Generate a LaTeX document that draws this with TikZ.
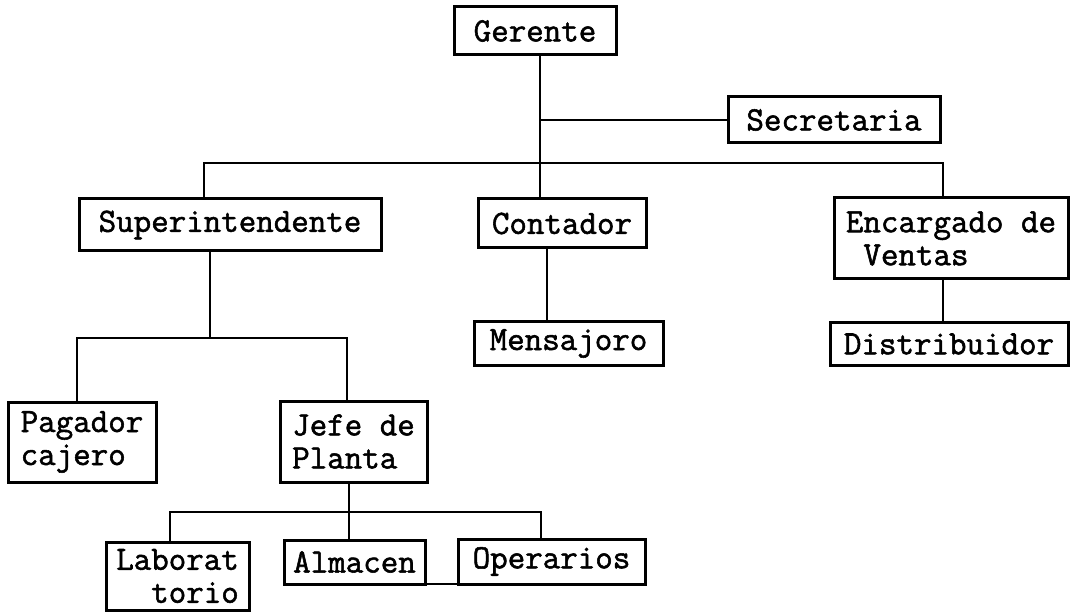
\documentclass[tikz,border=0pt]{standalone}
\usepackage{fontspec}
\newfontfamily\typewriter{Latin Modern Mono}[FakeBold=1.6]
\begin{document}
\begin{tikzpicture}[x=1pt,y=-1pt,
  orgbox/.style={draw=black, line width=3pt, inner sep=0pt, outer sep=0pt,
    anchor=north west, align=left,
    font=\typewriter\fontsize{34}{33}\selectfont, text=black},
  link/.style={draw=black, line width=2.6pt}]
\useasboundingbox (0,0) rectangle (1071,612);

% boxes (top-left corner, width, height)
\node[orgbox, minimum width=162pt, minimum height=48pt] (ger) at (454,7) {Gerente};
\node[orgbox, minimum width=212pt, minimum height=46pt] (sec) at (728,97) {Secretaria};
\node[orgbox, minimum width=302pt, minimum height=52pt] (sup) at (79,199) {Superintendente};
\node[orgbox, minimum width=168pt, minimum height=49pt] (con) at (478,199) {Contador};
\node[orgbox, minimum width=234pt, minimum height=81pt] (enc) at (834,198) {Encargado de\\\phantom{E}Ventas};
\node[orgbox, minimum width=189pt, minimum height=43pt] (men) at (474,322) {Mensajoro};
\node[orgbox, minimum width=238pt, minimum height=42pt] (dis) at (830,323) {Distribuidor};
\node[orgbox, minimum width=148pt, minimum height=80pt] (pag) at (8,402) {Pagador\\cajero};
\node[orgbox, minimum width=147pt, minimum height=81pt] (jef) at (280,401) {Jefe de\\Planta};
\node[orgbox, minimum width=143pt, minimum height=68pt] (lab) at (106,542) {Laborat\\\phantom{La}torio};
\node[orgbox, minimum width=141pt, minimum height=44pt] (alm) at (284,540) {Almacen};
\node[orgbox, minimum width=187pt, minimum height=45pt] (ope) at (458,539) {Operarios};

% junction points of the connector lines
\coordinate (gx) at (540,120);
\coordinate (busL) at (204,163);
\coordinate (busR) at (943,163);
\coordinate (cm) at (547,300);
\coordinate (sx) at (210,338);
\coordinate (pl) at (77,338);
\coordinate (jr) at (347,338);
\coordinate (jx) at (349,512);
\coordinate (ll) at (170,512);
\coordinate (or) at (541,512);

% Gerente to the staff below
\draw[link] (ger.south -| gx) -- (con.north -| gx);
\draw[link] (gx) -- (sec.west);
\draw[link] (sup.north -| busL) -- (busL) -- (busR) -- (enc.north -| busR);
\draw[link] (con.south -| cm) -- (men.north -| cm);
\draw[link] (enc.south -| busR) -- (dis.north -| busR);

% Superintendente branch
\draw[link] (sup.south -| sx) -- (sx);
\draw[link] (pag.north -| pl) -- (pl) -- (jr) -- (jef.north -| jr);

% Jefe de Planta branch
\draw[link] (jef.south -| jx) -- (alm.north -| jx);
\draw[link] (lab.north -| ll) -- (ll) -- (or) -- (ope.north -| or);
\draw[link] (alm.south east) -- (ope.south west);
\end{tikzpicture}
\end{document}
